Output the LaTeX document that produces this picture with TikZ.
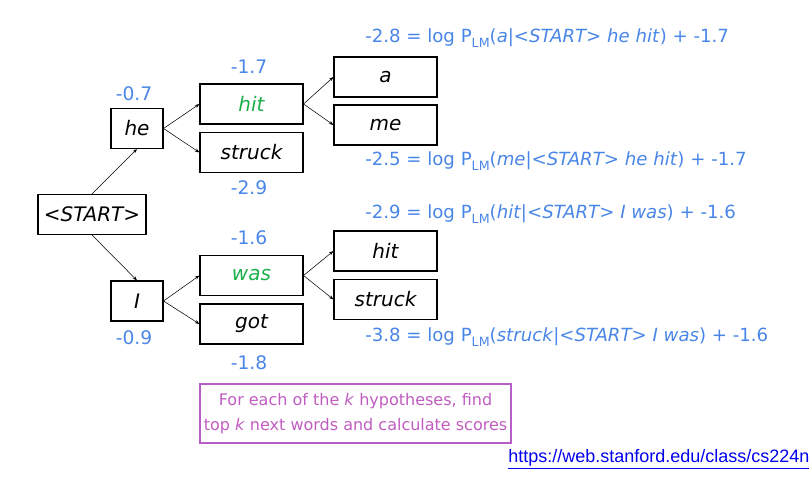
\documentclass[tikz,border=0pt]{standalone}
\usepackage{fontspec}
\setmainfont{DejaVu Sans}
\newfontfamily\urlfont{Liberation Sans}
\usetikzlibrary{arrows.meta}
\definecolor{numblue}{HTML}{4A86E8}
\definecolor{wgreen}{HTML}{1DB04A}
\definecolor{purp}{HTML}{B85CC8}
\definecolor{purptext}{HTML}{C05CC0}
\definecolor{urlblue}{HTML}{0000EE}
\newcommand\lmsub{\raisebox{-0.45ex}{\fontsize{9.5}{9.5}\selectfont LM}}
\begin{document}
\begin{tikzpicture}[x=0.75pt,y=-0.75pt,
  wbox/.style={draw,line width=0.8pt,minimum width=77.25pt,minimum height=30pt,inner sep=0pt,font=\fontsize{15}{16}\selectfont\itshape},
  sbox/.style={wbox,minimum width=39pt},
  num/.style={text=numblue,font=\fontsize{14}{15}\selectfont,inner sep=0pt},
  eq/.style={text=numblue,font=\fontsize{13.6}{15}\selectfont,inner sep=0pt,anchor=west},
  arr/.style={-{Stealth[length=3.5pt,width=2.5pt]},line width=0.4pt}]
\useasboundingbox (0,0) rectangle (811,484);
\node[wbox,minimum width=81pt] (start) at (92,214.5) {<START>};
\node[sbox] (he) at (137,128.5) {he};
\node[sbox] (I) at (137,301) {I};
\node[wbox,text=wgreen] (hit) at (251.5,104) {hit};
\node[wbox] (struck) at (251.5,152.5) {struck};
\node[wbox,text=wgreen] (was) at (251.5,275.5) {was};
\node[wbox] (got) at (251.5,324) {got};
\node[wbox] (a) at (385.5,77) {a};
\node[wbox] (me) at (385.5,125) {me};
\node[wbox] (hit2) at (385.5,251) {hit};
\node[wbox] (struck2) at (385.5,299.5) {struck};
\draw[arr] (start.north) -- (he.south);
\draw[arr] (start.south) -- (I.north);
\draw[arr] (he.east) -- (hit.west);
\draw[arr] (he.east) -- (struck.west);
\draw[arr] (I.east) -- (was.west);
\draw[arr] (I.east) -- (got.west);
\draw[arr] (hit.east) -- (a.west);
\draw[arr] (hit.east) -- (me.west);
\draw[arr] (was.east) -- (hit2.west);
\draw[arr] (was.east) -- (struck2.west);
\node[num] (n07) at (134,94) {-0.7};
\node[num] (n09) at (134,338) {-0.9};
\node[num] (n17) at (249,67) {-1.7};
\node[num] (n29) at (249,188) {-2.9};
\node[num] (n16) at (249,238) {-1.6};
\node[num] (n18) at (249,363) {-1.8};
\node[eq] (e1) at (365,38) {-2.8 = log P\lmsub(\textit{a}|\textit{<START> he hit}) + -1.7};
\node[eq] (e2) at (365,161) {-2.5 = log P\lmsub(\textit{me}|\textit{<START> he hit}) + -1.7};
\node[eq] (e3) at (365,214) {-2.9 = log P\lmsub(\textit{hit}|\textit{<START> I was}) + -1.6};
\node[eq] (e4) at (365,337) {-3.8 = log P\lmsub(\textit{struck}|\textit{<START> I was}) + -1.6};
\node[draw=purp,line width=1.3pt,minimum width=233pt,minimum height=44pt,inner sep=0pt,text=purptext,align=center,font=\fontsize{12}{18.5}\selectfont] (note) at (355.5,413.5) {For each of the \textit{k} hypotheses, find\\top \textit{k} next words and calculate scores};
\node[anchor=west,inner sep=0pt,text=urlblue,font=\urlfont\fontsize{13.5}{15}\selectfont] (url) at (508,459) {\underline{https://web.stanford.edu/class/cs224n}};
\end{tikzpicture}
\end{document}
